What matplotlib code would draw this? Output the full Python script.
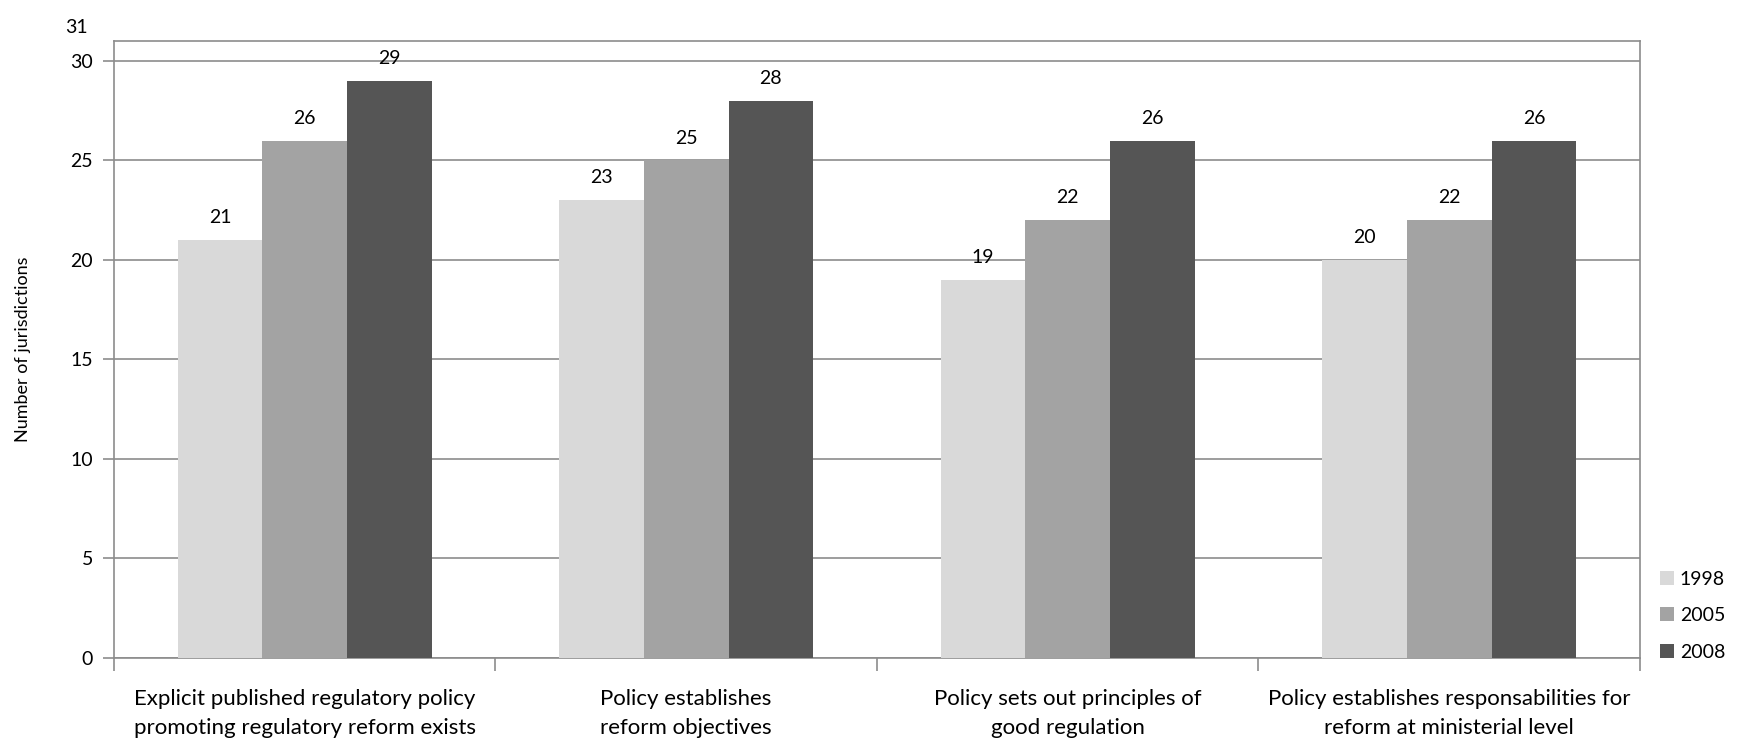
import numpy as np
import matplotlib.pyplot as plt

categories = ['Explicit published regulatory policy\npromoting regulatory reform exists',
              'Policy establishes\nreform objectives',
              'Policy sets out principles of\ngood regulation',
              'Policy establishes responsabilities for\nreform at ministerial level']
years = ['1998', '2005', '2008']
v1998 = [21, 23, 19, 20]
v2005 = [26, 25, 22, 22]
v2008 = [29, 28, 26, 26]
colors = ['#d9d9d9', '#a3a3a3', '#555555']

plt.rcParams['font.family'] = ['Lato', 'DejaVu Sans']

fig = plt.figure(figsize=(17.42, 7.40), dpi=100)
ax = fig.add_axes([0.0654, 0.1108, 0.876, 0.8338])

x = np.arange(len(categories))
w = 1 / 4.5
for i, (vals, yr) in enumerate(zip([v1998, v2005, v2008], years)):
    bars = ax.bar(x + (i - 1) * w, vals, w, color=colors[i], label=yr, zorder=3)
    for b, v in zip(bars, vals):
        ax.annotate(str(v), (b.get_x() + b.get_width() / 2, v), xytext=(0, 10),
                    textcoords='offset points', ha='center', va='bottom', fontsize=14)

ax.set_xlim(-0.5, len(categories) - 0.5)
ax.set_ylim(0, 31)
ax.set_yticks(range(0, 31, 5))
ax.yaxis.grid(True, color='#8c8c8c', linewidth=1.2, zorder=0)
ax.tick_params(axis='y', length=8, width=1.2, color='#8c8c8c', labelsize=14, pad=7)
ax.text(-0.017, 1.022, '31', transform=ax.transAxes, ha='right', va='center', fontsize=14)

ax.set_xticks(np.arange(-0.5, len(categories), 1.0))
ax.set_xticklabels([])
ax.set_xticks(x, minor=True)
ax.set_xticklabels(categories, minor=True, fontsize=16, linespacing=1.6)
ax.tick_params(axis='x', which='major', length=9, width=1.2, color='#8c8c8c')
ax.tick_params(axis='x', which='minor', length=0, pad=22)

for s in ax.spines.values():
    s.set_color('#8c8c8c')
    s.set_linewidth(1.2)

ax.set_ylabel('Number of jurisdictions', fontsize=13, labelpad=28)

ax.legend(loc='upper left', bbox_to_anchor=(1.002, 0.17), frameon=False, fontsize=14,
          handlelength=0.7, handleheight=0.7, handletextpad=0.3, labelspacing=1.0)

plt.savefig('out.png', dpi=100)
